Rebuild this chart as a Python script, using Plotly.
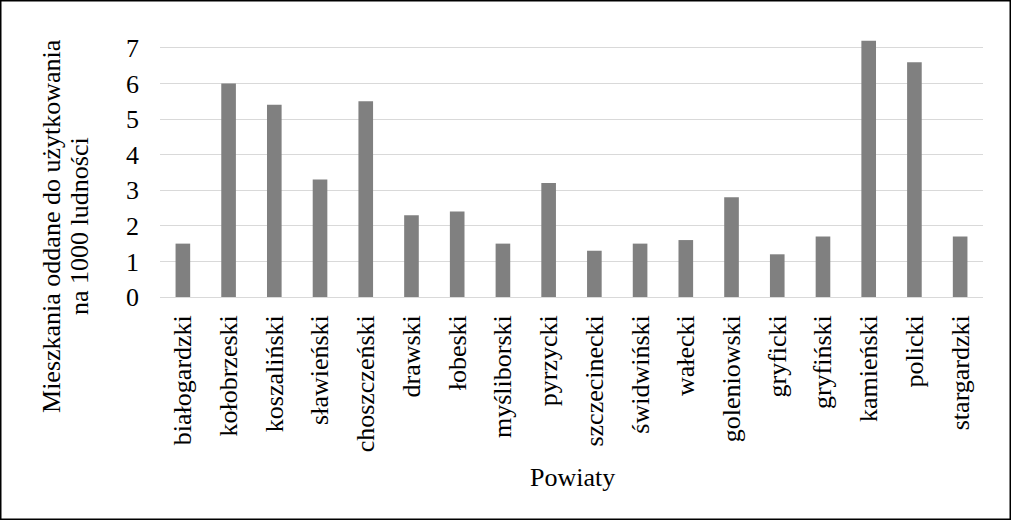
import plotly.graph_objects as go

categories = ["białogardzki", "kołobrzeski", "koszaliński", "sławieński", "choszczeński",
              "drawski", "łobeski", "myśliborski", "pyrzycki", "szczecinecki",
              "świdwiński", "wałecki", "goleniowski", "gryficki", "gryfiński",
              "kamieński", "policki", "stargardzki"]
values = [1.5, 6.0, 5.4, 3.3, 5.5, 2.3, 2.4, 1.5, 3.2, 1.3,
          1.5, 1.6, 2.8, 1.2, 1.7, 7.2, 6.6, 1.7]
y_ticks = [0, 1, 2, 3, 4, 5, 6, 7]
y_title_lines = ["Mieszkania oddane do użytkowania", "na 1000 ludności"]
x_title = "Powiaty"

W, H = 1011, 520
Y_TOP = 7.25
UNIT = (297 - 48) / 7.0
ML, MR, MB = 160, 28, 223
MT = 48 - (Y_TOP - 7) * UNIT
PW, PH = W - ML - MR, H - MT - MB

def px_x(px):
    return (px - ML) / PW

def px_y(py):
    return (H - MB - py) / PH

FONT = "Liberation Serif"
FS = 26

fig = go.Figure(go.Bar(
    x=categories, y=values,
    marker=dict(color="#808080", line=dict(width=0)),
    width=0.32, hoverinfo="skip",
))

fig.update_layout(
    width=W, height=H,
    margin=dict(l=ML, r=MR, t=MT, b=MB, pad=0, autoexpand=False),
    paper_bgcolor="white", plot_bgcolor="white",
    font=dict(family=FONT, size=FS, color="black"),
    showlegend=False,
    xaxis=dict(
        type="category", tickangle=-90, showgrid=False,
        showline=False, zeroline=False, ticks="",
        ticklabelstandoff=12, automargin=False,
        tickfont=dict(family=FONT, size=FS, color="black"),
    ),
    yaxis=dict(
        range=[0, Y_TOP], tickvals=y_ticks, showgrid=True,
        gridcolor="#d9d9d9", gridwidth=1.3, zeroline=True,
        zerolinecolor="#d9d9d9", zerolinewidth=1.3, showline=False,
        ticks="", ticklabelstandoff=20, automargin=False,
        tickfont=dict(family=FONT, size=FS, color="black"),
    ),
    annotations=[
        dict(text=y_title_lines[0], textangle=-90, xref="paper", yref="paper",
             x=px_x(52), y=px_y(226), xanchor="center", yanchor="middle",
             showarrow=False, font=dict(family=FONT, size=FS, color="black")),
        dict(text=y_title_lines[1], textangle=-90, xref="paper", yref="paper",
             x=px_x(80), y=px_y(226), xanchor="center", yanchor="middle",
             showarrow=False, font=dict(family=FONT, size=FS, color="black")),
        dict(text=x_title, xref="paper", yref="paper",
             x=px_x(572), y=px_y(477), xanchor="center", yanchor="middle",
             showarrow=False, font=dict(family=FONT, size=FS, color="black")),
    ],
    shapes=[
        dict(type="rect", xref="paper", yref="paper",
             x0=px_x(0.75), x1=px_x(W - 0.75), y0=px_y(H - 0.75), y1=px_y(0.75),
             line=dict(color="black", width=1.5), fillcolor="rgba(0,0,0,0)",
             layer="above"),
    ],
)

fig.write_html(
    "out.html",
    config={"displayModeBar": False},
    post_script="document.body.style.margin='0';document.body.style.padding='0';"
                "document.body.style.overflow='hidden';",
)
